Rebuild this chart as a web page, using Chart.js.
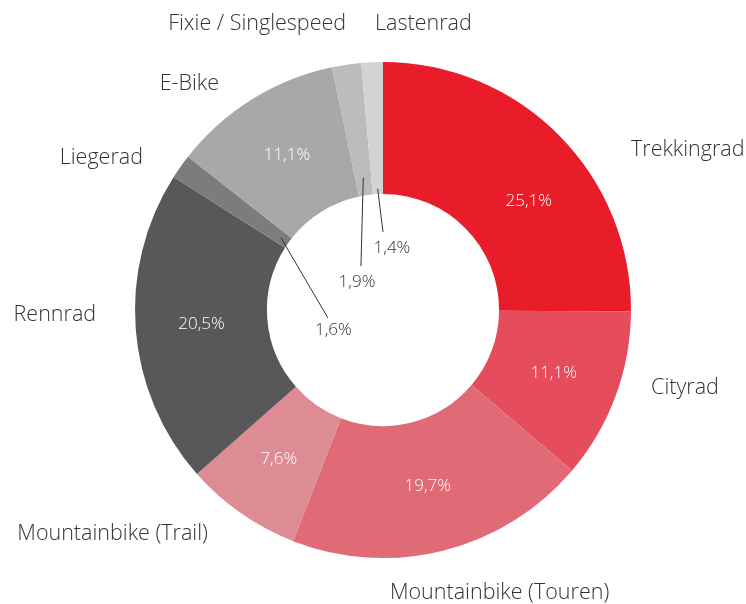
<!DOCTYPE html>
<html>
<head>
<meta charset="utf-8">
<script src="https://cdn.jsdelivr.net/npm/chart.js@4"></script>
<style>
  body { margin: 0; background: #fff; }
  #wrap { width: 746px; height: 604px; }
</style>
</head>
<body>
<div id="wrap"><canvas id="bikeChart" width="746" height="604"></canvas></div>
<script>
// data
const categories = [
  "Trekkingrad", "Cityrad", "Mountainbike (Touren)", "Mountainbike (Trail)",
  "Rennrad", "Liegerad", "E-Bike", "Fixie / Singlespeed", "Lastenrad"
];
const shares = [25.1, 11.1, 19.7, 7.6, 20.5, 1.6, 11.1, 1.9, 1.4];
const colors = [
  "#E91C2A", "#E54D5C", "#E06A75", "#DD8C93",
  "#58585A", "#7B7C7E", "#A7A8AA", "#BBBCBE", "#D1D3D4"
];

// where the names go, relative to centre in units of the outer radius
const nameSpots = [
  { dx: 1.0, dy: -0.645, align: "left" },
  { dx: 1.081, dy: 0.315, align: "left" },
  { dx: 0.028, dy: 1.141, align: "left" },
  { dx: -0.706, dy: 0.903, align: "right" },
  { dx: -1.157, dy: 0.02, align: "right" },
  { dx: -0.968, dy: -0.613, align: "right" },
  { dx: -0.661, dy: -0.911, align: "right" },
  { dx: -0.149, dy: -1.153, align: "right" },
  { dx: -0.032, dy: -1.153, align: "left" }
];

// small slices get their value in the hole with a leader line
const holeValues = {
  5: { lineR: 0.504, end: [-0.222, 0.032], text: [-0.2, 0.081] },
  7: { lineR: 0.54, end: [-0.089, -0.177], text: [-0.105, -0.113] },
  8: { lineR: 0.49, end: [0.0, -0.315], text: [0.036, -0.25] }
};

const fmt = v => v.toFixed(1).replace(".", ",") + "%";
const FONT = "'Open Sans', 'DejaVu Sans', sans-serif";

const labelPlugin = {
  id: "bikeLabels",
  afterDatasetsDraw(chart) {
    const ctx = chart.ctx;
    const arcs = chart.getDatasetMeta(0).data;
    ctx.save();
    ctx.textBaseline = "middle";
    arcs.forEach((arc, i) => {
      const { x, y, startAngle, endAngle, innerRadius, outerRadius } =
        arc.getProps(["x", "y", "startAngle", "endAngle", "innerRadius", "outerRadius"], true);
      const R = outerRadius;
      const mid = (startAngle + endAngle) / 2;

      // category name
      const spot = nameSpots[i];
      ctx.font = "300 21.5px " + FONT;
      ctx.fillStyle = "#333333";
      ctx.textAlign = spot.align;
      ctx.fillText(categories[i], x + spot.dx * R, y + spot.dy * R);

      // value
      const hv = holeValues[i];
      ctx.font = "300 17px " + FONT;
      if (hv) {
        ctx.strokeStyle = "#333";
        ctx.lineWidth = 1;
        ctx.beginPath();
        ctx.moveTo(x + Math.cos(mid) * hv.lineR * R, y + Math.sin(mid) * hv.lineR * R);
        ctx.lineTo(x + hv.end[0] * R, y + hv.end[1] * R);
        ctx.stroke();
        ctx.fillStyle = "#333333";
        ctx.textAlign = "center";
        ctx.fillText(fmt(shares[i]), x + hv.text[0] * R, y + hv.text[1] * R);
      } else {
        let a = mid;
        if (i === 0) a = mid + 0.14;
        const r = (innerRadius + outerRadius) / 2;
        ctx.fillStyle = "#ffffff";
        ctx.textAlign = "center";
        ctx.fillText(fmt(shares[i]), x + Math.cos(a) * r, y + Math.sin(a) * r);
      }
    });
    ctx.restore();
  }
};

const ctx = document.getElementById("bikeChart").getContext("2d");
const bikeChart = new Chart(ctx, {
  type: "doughnut",
  data: {
    labels: categories,
    datasets: [{
      data: shares,
      backgroundColor: colors,
      borderWidth: 0
    }]
  },
  options: {
    responsive: false,
    animation: false,
    cutout: "46.8%",
    layout: { padding: { top: 62, bottom: 46, left: 135, right: 115 } },
    plugins: {
      legend: { display: false },
      tooltip: { enabled: false }
    }
  },
  plugins: [labelPlugin]
});
</script>
</body>
</html>
